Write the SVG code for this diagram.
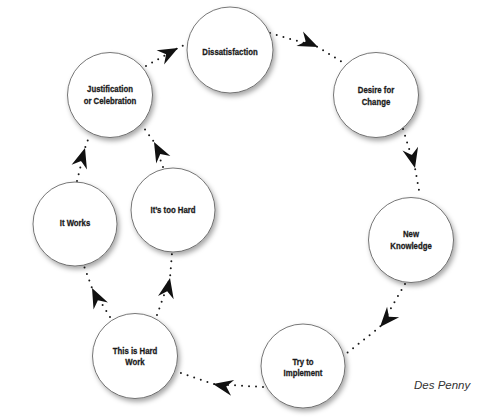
<svg xmlns="http://www.w3.org/2000/svg" width="480" height="420" viewBox="0 0 480 420">
<defs>
<filter id="sh" x="-30%" y="-30%" width="160%" height="160%">
<feDropShadow dx="2" dy="3" stdDeviation="2.5" flood-color="#000" flood-opacity="0.35"/>
</filter>
<marker id="ah" markerUnits="userSpaceOnUse" markerWidth="26" markerHeight="22" viewBox="-22 -11 26 22" refX="0" refY="0" orient="auto" overflow="visible">
<path d="M0,0 L-20,-8 L-13.5,0 L-20,8 Z" fill="#111"/>
</marker>
</defs>
<style>
.node circle{fill:#fff;stroke:#555;stroke-width:0.8;filter:url(#sh)}
.node text{font-family:"Liberation Sans Narrow","Liberation Sans",Arial,sans-serif;font-weight:bold;font-size:9.5px;fill:#1a1a1a;stroke:#1a1a1a;stroke-width:0.3;text-anchor:middle}
.conn path{fill:none;stroke:#1a1a1a;stroke-width:2;stroke-linecap:round;stroke-dasharray:0 7;marker-mid:url(#ah)}
.credit{font-family:"Liberation Sans",Arial,sans-serif;font-style:italic;font-size:11.5px;fill:#333}
</style>
<rect width="480" height="420" fill="#fff"/>
<g id="connectors" class="conn">
<path d="M146,66 L178,48 L188,43"/>
<path d="M270,33 L318,47 L342,62"/>
<path d="M403,129 L415,168 L420,196"/>
<path d="M405,284 L380,327 L347,353"/>
<path d="M263,387 L213,384 L178,372"/>
<path d="M110,317 L92,288 L84,266"/>
<path d="M157,315 L170,278 L172,253"/>
<path d="M77,181 L85,148 L90,134"/>
<path d="M163,167 L154,142 L144,128"/>
</g>
<g id="dissatisfaction" class="node"><circle cx="230" cy="50" r="43"/><text transform="matrix(0.82,0,0,1,230,55)">Dissatisfaction</text></g>
<g id="desire" class="node"><circle cx="376" cy="95" r="42.5"/><text transform="matrix(0.82,0,0,1,376,93)">Desire for</text><text transform="matrix(0.82,0,0,1,376,105)">Change</text></g>
<g id="knowledge" class="node"><circle cx="411" cy="240" r="42.5"/><text transform="matrix(0.82,0,0,1,411,237)">New</text><text transform="matrix(0.82,0,0,1,411,249)">Knowledge</text></g>
<g id="implement" class="node"><circle cx="303" cy="366" r="42"/><text transform="matrix(0.82,0,0,1,303,365)">Try to</text><text transform="matrix(0.82,0,0,1,303,376)">Implement</text></g>
<g id="hardwork" class="node"><circle cx="135" cy="356" r="42.5"/><text transform="matrix(0.82,0,0,1,135,354)">This is Hard</text><text transform="matrix(0.82,0,0,1,135,365)">Work</text></g>
<g id="works" class="node"><circle cx="75" cy="224" r="42"/><text transform="matrix(0.82,0,0,1,75,226)">It Works</text></g>
<g id="toohard" class="node"><circle cx="173" cy="210" r="42"/><text transform="matrix(0.82,0,0,1,173,213)">It’s too Hard</text></g>
<g id="justification" class="node"><circle cx="110" cy="95" r="42.5"/><text transform="matrix(0.82,0,0,1,110,92)">Justification</text><text transform="matrix(0.82,0,0,1,110,104)">or Celebration</text></g>
<text class="credit" x="414" y="389">Des Penny</text>
</svg>
